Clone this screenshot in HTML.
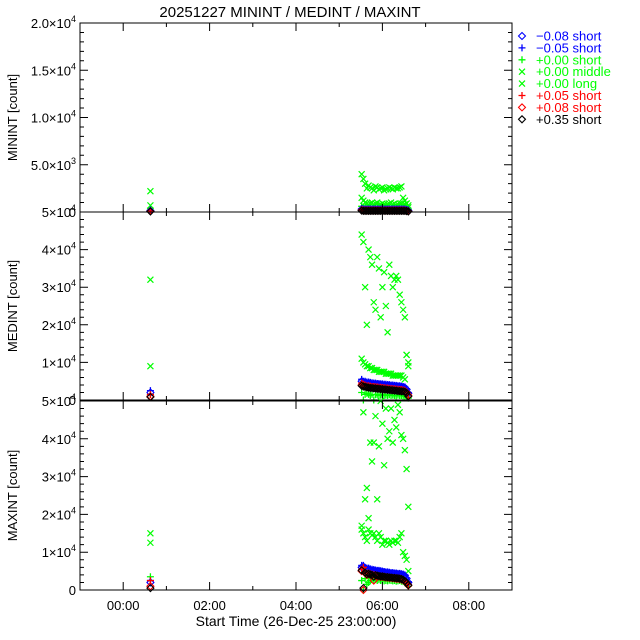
<!DOCTYPE html>
<html><head><meta charset="utf-8"><style>
body{margin:0;background:#fff}
svg{display:block;font-family:"Liberation Sans","DejaVu Sans",sans-serif}
</style></head><body>
<svg id="chart" width="640" height="640" viewBox="0 0 640 640" xmlns="http://www.w3.org/2000/svg">
<rect width="640" height="640" fill="#fff"/>
<text x="290" y="17" font-size="15" text-anchor="middle">20251227  MININT  /  MEDINT  /  MAXINT</text>
<text x="296" y="626" font-size="14" text-anchor="middle">Start Time (26-Dec-25 23:00:00)</text>
<g id="panels"></g>
<g id="legend"></g>
</svg>
<script>
// hours since 23:00
const times = [1.63, 6.52,6.56,6.60,6.64,6.68,6.72,6.76,6.80,6.84,6.88,6.92,6.96,7.00,7.04,7.08,7.12,7.16,7.20,7.24,7.28,7.32,7.36,7.40,7.44,7.48,7.52,7.56,7.60];
const xTickLabels = ["00:00","02:00","04:00","06:00","08:00"];
const xTickHours = [1,3,5,7,9];
const seriesNames = ["-0.08 short","-0.05 short","+0.00 short","+0.00 middle","+0.00 long","+0.05 short","+0.08 short","+0.35 short"];
const legendLabels = ["\u22120.08 short","\u22120.05 short","+0.00 short","+0.00 middle","+0.00 long","+0.05 short","+0.08 short","+0.35 short"];

// MININT
const minBlueDiamond = [150, 300,250,250,250,250,250,250,250,250,250,250,250,250,250,250,250,250,250,250,250,250,250,250,250,250,250,200,150];
const minBluePlus = [200, 350,300,300,300,300,300,300,300,300,300,300,300,300,300,300,300,300,300,300,300,300,300,300,300,300,300,250,200];
const minGreenPlus = [400, 600,500,500,500,500,500,500,500,500,500,500,500,500,500,500,500,500,500,500,500,500,500,500,500,500,500,400,300];
const minGreenMiddle = [2200, 1500,1200,1000,900,800,900,1000,800,900,1000,700,800,900,800,700,800,900,1000,800,900,700,800,900,900,700,800,900,500];
const minGreenLong = [700, 4000,3500,3000,2500,2800,2600,2500,2300,2700,2600,2400,2500,2600,2300,2400,2500,2600,2500,2400,2600,2500,2500,2600,2700,1500,1200,900,700];
const minRedPlus = [100, 250,200,200,200,200,200,200,200,200,200,200,200,200,200,200,200,200,200,200,200,200,200,200,200,200,200,150,100];
const minRedDiamond = [80, 200,150,150,150,150,150,150,150,150,150,150,150,150,150,150,150,150,150,150,150,150,150,150,150,150,150,120,80];
const minBlackDiamond = [60, 150,120,120,120,120,120,120,120,120,120,120,120,120,120,120,120,120,120,120,120,120,120,120,120,120,120,100,60];

// MEDINT
const medBlueDiamond = [2000, 5000,4700,4700,4500,4500,4400,4300,4300,4200,4200,4100,4100,4000,4000,3900,3900,3800,3800,3700,3700,3600,3600,3500,3500,3400,3300,2800,1800];
const medBluePlus = [2500, 5500,5000,5000,4800,4800,4700,4600,4500,4500,4400,4400,4300,4300,4200,4200,4100,4100,4000,4000,3900,3900,3800,3800,3700,3600,3500,3000,2000];
const medGreenPlus = [1500, 2000,0,1500,1800,1500,1200,1500,0,1400,1500,1200,1300,1500,1200,1300,1200,1400,1200,1300,1200,1100,1300,1200,1200,1100,1000,800,500];
const medGreenMiddle = [32000, 44000,42000,30000,20000,40000,38000,36000,26000,24000,38000,35000,22000,30000,34000,25000,18000,36000,33000,30000,32000,33000,32000,28000,26000,24000,22000,12000,10000];
const medGreenLong = [9000, 11000,10000,9500,9000,9000,8500,8500,8000,8000,8000,7500,7500,7500,7500,7000,7000,7000,7000,6500,6500,6500,6500,6500,6500,6000,5500,12000,9000];
const medRedPlus = [1500, 4500,4200,4000,3800,3800,3700,3600,3600,3500,3500,3400,3400,3300,3300,3200,3200,3100,3100,3000,3000,2900,2900,2800,2800,2700,2600,2200,1500];
const medRedDiamond = [1000, 4000,3800,3600,3500,3400,3300,3300,3200,3200,3100,3100,3000,3000,2900,2900,2800,2800,2700,2700,2600,2600,2500,2500,2400,2400,2300,2000,1200];
const medBlackDiamond = [800, 3800,3600,3500,3400,3300,3200,3200,3100,3100,3000,3000,2900,2900,2800,2800,2700,2700,2600,2600,2500,2500,2400,2400,2300,2300,2200,1900,1000];

// MAXINT
const maxBlueDiamond = [2000, 6000,6200,5800,5500,5500,5300,5200,5200,5000,5000,5000,4800,4800,4700,4600,4500,4500,4400,4400,4300,4300,4200,4200,4100,4000,3800,3000,2000];
const maxBluePlus = [2500, 6500,6500,6000,5800,5800,5600,5500,5400,5300,5200,5200,5100,5000,4900,4800,4800,4700,4600,4600,4500,4500,4400,4400,4300,4200,4000,3200,2200];
const maxGreenPlus = [3500, 2500,0,3000,1500,2000,2500,3000,2500,2800,2500,2700,2500,2600,2400,2500,2400,2600,2500,2400,2500,2300,2400,2500,2300,2200,2000,1500,1000];
const maxGreenMiddle = [15000, 17000,47000,24000,27000,19000,39000,34000,39000,46000,24000,38000,50000,44000,33000,48000,40000,42000,48000,39000,45000,43000,49000,47000,41000,40000,37000,32000,22000];
const maxGreenLong = [12500, 16000,15000,14000,13000,16000,15000,14500,15000,14000,13000,15000,14000,12000,13000,13000,12500,12000,13000,12500,13000,13000,12500,14000,15000,10000,9000,8000,5000];
const maxRedPlus = [2500, 5500,6000,5000,4500,4500,4300,4200,4000,4000,3900,3800,3700,3600,3600,3500,3400,3400,3300,3300,3200,3200,3100,3100,3000,2800,2500,2000,1500];
const maxRedDiamond = [1000, 5000,0,4500,4000,4200,4000,3900,2500,3800,3700,3600,3500,3500,3400,3300,3300,3200,3200,3100,3100,3000,3000,2900,2800,2600,2300,1800,1200];
const maxBlackDiamond = [500, 5200,500,4600,4200,4300,4100,4000,3500,3900,3800,3700,3600,3600,3500,3400,3400,3300,3300,3200,3200,3100,3100,3000,2900,2700,2400,1900,1300];

const NS="http://www.w3.org/2000/svg";
const X0=80, X1=512, H0=0, H1=10;
function xs(h){return X0+(h-H0)/(H1-H0)*(X1-X0);}
const panels=[
 {name:"minint-panel",title:"MININT [count]",top:23,bot:212,max:20000,major:5000,minor:1000,labels:[["0",""],["5.0×10","3"],["1.0×10","4"],["1.5×10","4"],["2.0×10","4"]],
  series:[minGreenMiddle,minGreenLong,minGreenPlus,minBluePlus,minBlueDiamond,minRedPlus,minRedDiamond,minBlackDiamond]},
 {name:"medint-panel",title:"MEDINT [count]",top:212,bot:400,max:50000,major:10000,minor:2000,labels:[["0",""],["1×10","4"],["2×10","4"],["3×10","4"],["4×10","4"],["5×10","4"]],
  series:[medGreenMiddle,medGreenLong,medGreenPlus,medBluePlus,medBlueDiamond,medRedPlus,medRedDiamond,medBlackDiamond]},
 {name:"maxint-panel",title:"MAXINT [count]",top:401,bot:590,max:50000,major:10000,minor:2000,labels:[["0",""],["1×10","4"],["2×10","4"],["3×10","4"],["4×10","4"],["5×10","4"]],
  series:[maxGreenMiddle,maxGreenLong,maxGreenPlus,maxBluePlus,maxBlueDiamond,maxRedPlus,maxRedDiamond,maxBlackDiamond]}
];
// marker style per series slot (order in panel.series)
const styles=[["x","#00ff00"],["x","#00ff00"],["+","#00ff00"],["+","#0000ff"],["d","#0000ff"],["+","#ff0000"],["d","#ff0000"],["d","#000000"]];
const slotNames=["green-middle","green-long","green-plus","blue-plus","blue-diamond","red-plus","red-diamond","black-diamond"];

function mk(tag,attrs,parent){const e=document.createElementNS(NS,tag);for(const k in attrs)e.setAttribute(k,attrs[k]);parent.appendChild(e);return e;}
function marker(type,color,x,y,parent){
  let e;
  if(type==="x") e=mk("path",{d:`M${x-3},${y-3}L${x+3},${y+3}M${x-3},${y+3}L${x+3},${y-3}`,stroke:color,"stroke-width":1.2,fill:"none"},parent);
  else if(type==="+") e=mk("path",{d:`M${x-3.5},${y}L${x+3.5},${y}M${x},${y-3.5}L${x},${y+3.5}`,stroke:color,"stroke-width":1.3,fill:"none"},parent);
  else e=mk("path",{d:`M${x},${y-3.5}L${x+3.5},${y}L${x},${y+3.5}L${x-3.5},${y}Z`,stroke:color,"stroke-width":1.1,fill:"none"},parent);
  return e;
}
const root=document.getElementById("panels");
panels.forEach(p=>{
  const g=mk("g",{},root);
  
  
  const ys=v=>p.bot-(v/p.max)*(p.bot-p.top);
  // data
  p.series.forEach((arr,si)=>{
    const sg=mk("g",{},g);
    
    
    arr.forEach((v,i)=>{
      const m=marker(styles[si][0],styles[si][1],xs(times[i]),ys(v),sg);
      
      
    });
  });
  // frame
  const fr=mk("rect",{x:X0,y:p.top,width:X1-X0,height:p.bot-p.top,fill:"none",stroke:"#000","stroke-width":1},g);
  
  
  // y ticks
  let d="";
  for(let v=0;v<=p.max+0.1;v+=p.minor){
    const y=ys(v), major=Math.abs(v/p.major-Math.round(v/p.major))<1e-6, L=major?8:4;
    d+=`M${X0},${y}h${L}M${X1},${y}h${-L}`;
  }
  for(let h=0;h<=10;h++){
    const L=(h%2===1)?8:4;
    d+=`M${xs(h)},${p.bot}v${-L}M${xs(h)},${p.top}v${L}`;
  }
  const t=mk("path",{d:d,stroke:"#000","stroke-width":1,fill:"none"},g);
  
  
  p.labels.forEach((lb,i)=>{
    const y=ys(i*p.major);
    const tx=mk("text",{x:76,y:y+5,"font-size":13,"text-anchor":"end"},g);
    
    
    if(lb[1]){
      tx.appendChild(document.createTextNode(lb[0]));
      const s=mk("tspan",{dy:-6,"font-size":9},tx);s.textContent=lb[1];
    } else tx.textContent=lb[0];
  });
  const yt=mk("text",{x:0,y:0,"font-size":13,"text-anchor":"middle",transform:`translate(17,${(p.top+p.bot)/2}) rotate(-90)`},g);
  
  
  yt.textContent=p.title;
});
xTickLabels.forEach((l,i)=>{
  const tx=mk("text",{x:xs(xTickHours[i]),y:610,"font-size":13,"text-anchor":"middle"},root);
  
  
  tx.textContent=l;
});
// legend
const lg=document.getElementById("legend");
const legStyles=[["d","#0000ff"],["+","#0000ff"],["+","#00ff00"],["x","#00ff00"],["x","#00ff00"],["+","#ff0000"],["d","#ff0000"],["d","#000000"]];
legendLabels.forEach((l,i)=>{
  const y=36+i*11.9;
  const e=mk("g",{},lg);
  
  
  marker(legStyles[i][0],legStyles[i][1],522,y,e);
  const tx=mk("text",{x:536,y:y+4.5,"font-size":13,fill:legStyles[i][1]},e);
  tx.textContent=l;
});
</script>
</body></html>
